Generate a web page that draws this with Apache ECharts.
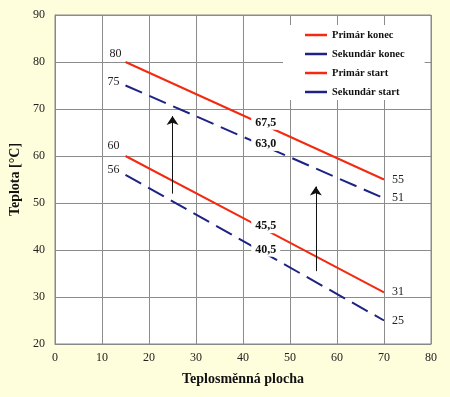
<!DOCTYPE html>
<html>
<head>
<meta charset="utf-8">
<script src="https://cdn.jsdelivr.net/npm/echarts@6/dist/echarts.min.js"></script>
<style>
  html, body { margin: 0; padding: 0; background: #FFFEDC; }
  #chart { width: 450px; height: 397px; }
</style>
</head>
<body>
<div id="chart"></div>
<script>
// plocha (x) pro vsechny ctyri primky
var plocha = [15, 42.5, 70];

var primarKonec = [80, 67.5, 55];
var sekundarKonec = [75, 63.0, 51];
var primarStart = [60, 45.5, 31];
var sekundarStart = [56, 40.5, 25];

var nazvy = ['Primár konec', 'Sekundár konec', 'Primár start', 'Sekundár start'];

// sipky: [x, y od, y do]
var sipky = [
    [25, 52, 68.5],
    [55.5, 35.5, 53.5]
];

var RED = '#F42A10';
var BLUE = '#1C2384';
var FONT = '"Liberation Serif", "DejaVu Serif", serif';

function fmt(v) {
    return v.toFixed(1).replace('.', ',');
}

// popisky: zacatek vlevo nahore, stred tucne na bilem, konec vpravo
function buildData(values, firstPos) {
    return values.map(function (v, i) {
        var item = { value: [plocha[i], v] };
        if (i === 0) {
            item.label = { show: true, position: firstPos, align: 'right', verticalAlign: 'middle', formatter: String(v) };
        } else if (i === 1) {
            item.label = {
                show: true, position: [11, 2], align: 'center', verticalAlign: 'middle',
                formatter: fmt(v), fontWeight: 'bold', color: '#111',
                backgroundColor: '#fff', padding: [1, 4]
            };
        } else {
            item.label = { show: true, position: [8, 0], align: 'left', verticalAlign: 'middle', formatter: String(v) };
        }
        return item;
    });
}

function makeSeries(name, values, color, dashed, firstPos) {
    return {
        name: name,
        type: 'line',
        symbol: 'circle',
        showSymbol: true,
        symbolSize: 0,
        animation: false,
        lineStyle: { color: color, width: 2, type: dashed ? [18, 8] : 'solid' },
        itemStyle: { color: color },
        label: { fontFamily: FONT, fontSize: 12, color: '#222' },
        labelLayout: { hideOverlap: false },
        data: buildData(values, firstPos),
        z: dashed ? 2 : 3
    };
}

var chart = echarts.init(document.getElementById('chart'));

var option = {
    backgroundColor: '#FFFEDC',
    animation: false,
    grid: {
        left: 54, right: 19, top: 15, bottom: 53,
        show: true, backgroundColor: '#fff', borderColor: '#888', borderWidth: 1
    },
    legend: {
        data: nazvy,
        orient: 'vertical',
        left: 283,
        top: 25,
        padding: [3, 20, 1, 22],
        icon: 'rect',
        itemWidth: 22,
        itemHeight: 2.5,
        itemGap: 5,
        backgroundColor: '#fff',
        textStyle: { fontFamily: FONT, fontSize: 10.5, fontWeight: 'bold', color: '#111', lineHeight: 14 }
    },
    xAxis: {
        type: 'value',
        min: 0, max: 80, interval: 10,
        name: 'Teplosměnná plocha',
        nameLocation: 'middle',
        nameGap: 28,
        nameTextStyle: { fontFamily: FONT, fontSize: 14, fontWeight: 'bold', color: '#111' },
        axisLine: { lineStyle: { color: '#888' } },
        axisTick: { show: false },
        axisLabel: { fontFamily: FONT, fontSize: 12, color: '#222', margin: 8 },
        splitLine: { lineStyle: { color: '#8c8c8c', width: 1 } }
    },
    yAxis: {
        type: 'value',
        min: 20, max: 90, interval: 10,
        name: 'Teplota [°C]',
        nameLocation: 'middle',
        nameGap: 33,
        nameTextStyle: { fontFamily: FONT, fontSize: 14, fontWeight: 'bold', color: '#111' },
        axisLine: { show: true, lineStyle: { color: '#888' } },
        axisTick: { show: false },
        axisLabel: { fontFamily: FONT, fontSize: 12, color: '#222', margin: 10 },
        splitLine: { lineStyle: { color: '#8c8c8c', width: 1 } }
    },
    series: [
        makeSeries(nazvy[0], primarKonec, RED, false, [-4, -8]),
        makeSeries(nazvy[1], sekundarKonec, BLUE, true, [-6, -4]),
        makeSeries(nazvy[2], primarStart, RED, false, [-6, -10]),
        makeSeries(nazvy[3], sekundarStart, BLUE, true, [-6, -5]),
        {
            name: 'sipky',
            type: 'lines',
            coordinateSystem: 'cartesian2d',
            polyline: false,
            symbol: ['none', 'arrow'],
            symbolSize: 9,
            lineStyle: { color: '#111', width: 1, opacity: 1 },
            data: sipky.map(function (s) {
                return { coords: [[s[0], s[1]], [s[0], s[2]]] };
            }),
            z: 4
        }
    ]
};

chart.setOption(option);
</script>
</body>
</html>
